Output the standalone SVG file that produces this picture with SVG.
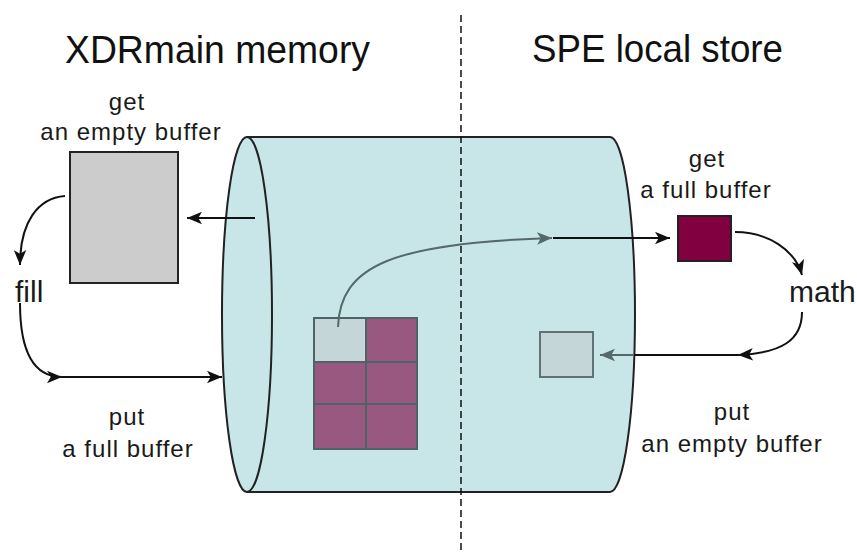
<svg xmlns="http://www.w3.org/2000/svg" width="857" height="554" viewBox="0 0 857 554">
  <style>
    .title { font-family: "Liberation Sans", Arial, sans-serif; font-size: 39px; fill: #111; }
    .lbl { font-family: "Liberation Sans", Arial, sans-serif; font-size: 24px; fill: #1a1a1a; letter-spacing: 1px; }
    .big { font-family: "Liberation Sans", Arial, sans-serif; font-size: 30px; fill: #1a1a1a; }
    .edge { fill: none; stroke: #111; stroke-width: 2; }
    .gedge { fill: none; stroke: #55696b; stroke-width: 2; }
    .cell { stroke: #4d6366; stroke-width: 2; }
  </style>
  <defs>
    <marker id="ah" viewBox="0 0 12 10" refX="12" refY="5" markerWidth="15" markerHeight="13" markerUnits="userSpaceOnUse" orient="auto">
      <path d="M0,0 L12,5 L0,10 L3,5 Z" fill="#111"/>
    </marker>
    <marker id="gah" viewBox="0 0 12 10" refX="12" refY="5" markerWidth="15" markerHeight="13" markerUnits="userSpaceOnUse" orient="auto">
      <path d="M0,0 L12,5 L0,10 L3,5 Z" fill="#55696b"/>
    </marker>
  </defs>

  <rect width="857" height="554" fill="#ffffff"/>

  <!-- channel between the two memories -->
  <g id="channel">
    <path d="M247,137 L610,137 A25,177.5 0 0 1 610,492 L247,492 Z" fill="#c8e6e8" stroke="#222" stroke-width="2"/>
    <ellipse cx="247" cy="314.5" rx="25" ry="177.5" fill="#c8e6e8" stroke="#222" stroke-width="2"/>
  </g>

  <!-- divider between the two sides -->
  <line x1="461" y1="15" x2="461" y2="554" stroke="#111" stroke-width="1.5" stroke-dasharray="7,4"/>

  <g id="titles">
    <text class="title" x="65" y="63" textLength="305" lengthAdjust="spacingAndGlyphs">XDRmain memory</text>
    <text class="title" x="532" y="62" textLength="251" lengthAdjust="spacingAndGlyphs">SPE local store</text>
  </g>

  <g id="empty-buffer-main">
    <rect x="70" y="152" width="108" height="131" fill="#cccccc" stroke="#222" stroke-width="2"/>
  </g>

  <g id="buffer-grid">
    <rect class="cell" x="314" y="318" width="52" height="44" fill="#c4d6d8"/>
    <rect class="cell" x="366" y="318" width="51" height="44" fill="#985880"/>
    <rect class="cell" x="314" y="362" width="52" height="42" fill="#985880"/>
    <rect class="cell" x="366" y="362" width="51" height="42" fill="#985880"/>
    <rect class="cell" x="314" y="404" width="52" height="45" fill="#985880"/>
    <rect class="cell" x="366" y="404" width="51" height="45" fill="#985880"/>
  </g>

  <g id="full-buffer-local">
    <rect x="678" y="216" width="53" height="45" fill="#800040" stroke="#222" stroke-width="2"/>
  </g>

  <g id="empty-buffer-local">
    <rect x="540" y="332" width="53" height="45" fill="#c4d6d8" stroke="#5f7375" stroke-width="2"/>
  </g>

  <g id="connectors">
    <line class="edge" x1="255" y1="218" x2="187" y2="218" marker-end="url(#ah)"/>
    <path class="edge" d="M65,196 C38,198 20,222 20,265" marker-end="url(#ah)"/>
    <path class="edge" d="M20,303 C20,345 30,377 62,377" marker-end="url(#ah)"/>
    <line class="edge" x1="60" y1="377" x2="222" y2="377" marker-end="url(#ah)"/>
    <path class="gedge" d="M338,327 C340,266 392,243 552,238" marker-end="url(#gah)"/>
    <line class="edge" x1="553" y1="238" x2="670" y2="238" marker-end="url(#ah)"/>
    <path class="edge" d="M735,232 C768,232 795,250 802,275" marker-end="url(#ah)"/>
    <path class="edge" d="M802,312 C802,340 782,353 738,355" marker-end="url(#ah)"/>
    <line class="edge" x1="738" y1="355" x2="634" y2="355"/>
    <line class="gedge" x1="634" y1="355" x2="600" y2="355" marker-end="url(#gah)"/>
  </g>

  <g id="labels">
    <text class="lbl" x="127" y="110" text-anchor="middle">get</text>
    <text class="lbl" x="131" y="140" text-anchor="middle">an empty buffer</text>
    <text class="big" x="15" y="302">fill</text>
    <text class="lbl" x="127" y="425" text-anchor="middle">put</text>
    <text class="lbl" x="128" y="457" text-anchor="middle">a full buffer</text>
    <text class="lbl" x="707" y="167" text-anchor="middle">get</text>
    <text class="lbl" x="706" y="198" text-anchor="middle">a full buffer</text>
    <text class="big" x="789" y="302">math</text>
    <text class="lbl" x="732" y="420" text-anchor="middle">put</text>
    <text class="lbl" x="732" y="452" text-anchor="middle">an empty buffer</text>
  </g>
</svg>
